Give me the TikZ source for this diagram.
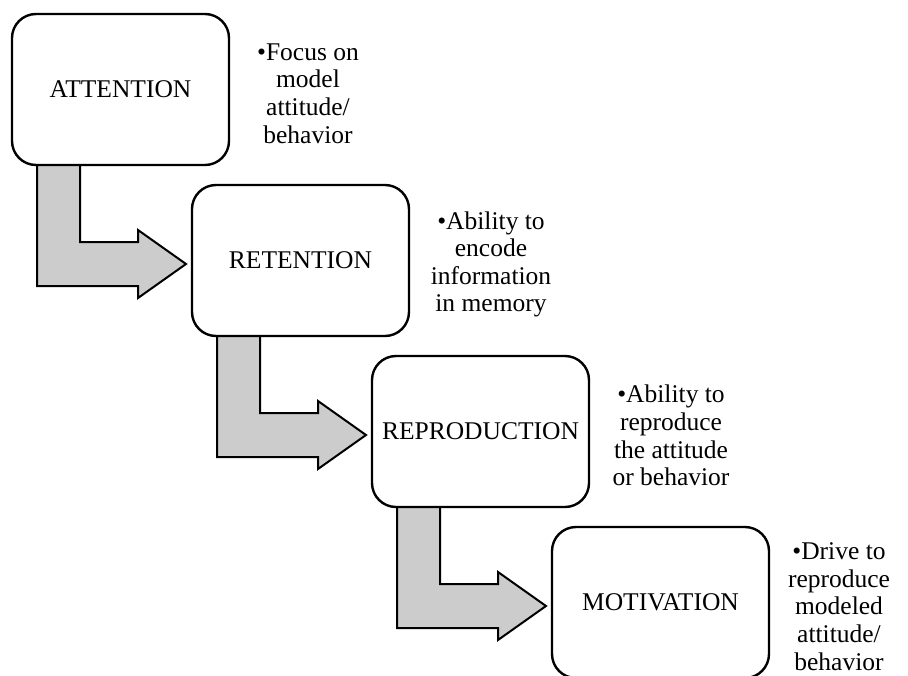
\documentclass[tikz,border=0pt]{standalone}
\usepackage{fontspec}
\setmainfont{Liberation Serif}
\usetikzlibrary{calc,backgrounds}

% Bent block arrow from the bottom of stage #1 into the left side of stage #2
\newcommand{\stagearrow}[2]{%
  \begin{scope}[on background layer]
    \path[flowarrow] let \p1=(#1.south west), \p2=(#2.west) in
      (\x1+25pt,\y1+6pt) -- (\x1+68pt,\y1+6pt)
      -- (\x1+68pt,\y2+18.5pt) -- (\x1+126pt,\y2+18.5pt)
      -- (\x1+126pt,\y2+30.5pt) -- (\x2-6pt,\y2-3.5pt)
      -- (\x1+126pt,\y2-37.5pt) -- (\x1+126pt,\y2-25.5pt)
      -- (\x1+25pt,\y2-25.5pt) -- cycle;
  \end{scope}}

\begin{document}
\begin{tikzpicture}[x=1pt,y=-1pt,
  stagebox/.style={draw, line width=2.4pt, rounded corners=24pt, fill=white,
    minimum width=217pt, minimum height=151pt, inner sep=0pt, outer sep=0pt,
    font=\fontsize{25.5}{28}\selectfont},
  notetext/.style={align=center, inner sep=0pt,
    font=\fontsize{25.5}{27.6}\selectfont},
  flowarrow/.style={draw, line width=2pt, fill=black!20, line join=miter}]
\useasboundingbox (0,0) rectangle (908,675);
\clip (0,0) rectangle (908,675);

% Stages
\node[stagebox] (att) at (120.5,89.5)  {\raisebox{-3pt}{ATTENTION}};
\node[stagebox] (ret) at (300.5,260.5) {\raisebox{-3pt}{RETENTION}};
\node[stagebox] (rep) at (480.5,431.5) {\raisebox{-3pt}{REPRODUCTION}};
\node[stagebox] (mot) at (660.5,602.5) {\raisebox{-3pt}{MOTIVATION}};

% Connecting arrows
\stagearrow{att}{ret}
\stagearrow{ret}{rep}
\stagearrow{rep}{mot}

% Descriptions
\node[notetext] (attnote) at ($(att.east)+(79,4)$)
  {\textbullet Focus on\\model\\attitude/\\behavior};
\node[notetext] (retnote) at ($(ret.east)+(82,4)$)
  {\textbullet Ability to\\encode\\information\\in memory};
\node[notetext] (repnote) at ($(rep.east)+(82,4)$)
  {\textbullet Ability to\\reproduce\\the attitude\\or behavior};
\node[notetext] (motnote) at ($(mot.east)+(70,4)$)
  {\textbullet Drive to\\reproduce\\modeled\\attitude/\\behavior};
\end{tikzpicture}
\end{document}
